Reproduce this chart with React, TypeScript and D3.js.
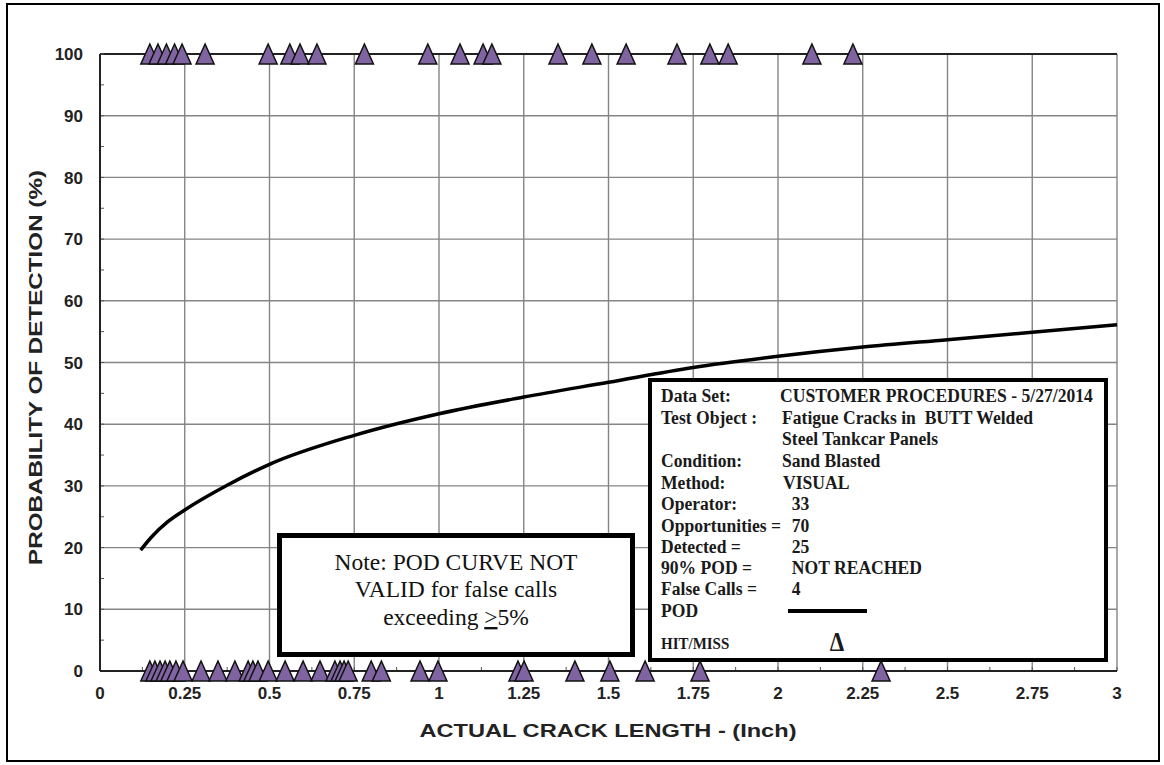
import React from "react";
import * as d3 from "d3";

// ---------- data ----------
const xTicks = [0, 0.25, 0.5, 0.75, 1, 1.25, 1.5, 1.75, 2, 2.25, 2.5, 2.75, 3];
const xTickLabels = ["0", "0.25", "0.5", "0.75", "1", "1.25", "1.5", "1.75", "2", "2.25", "2.5", "2.75", "3"];
const yTicks = [0, 10, 20, 30, 40, 50, 60, 70, 80, 90, 100];

// hits (POD = 100%)
const hitLengths = [
  0.147, 0.171, 0.196, 0.22, 0.242, 0.31, 0.496, 0.56, 0.59, 0.64, 0.78, 0.967,
  1.062, 1.13, 1.156, 1.351, 1.451, 1.552, 1.702, 1.799, 1.853, 2.1, 2.221,
];
// misses (POD = 0%)
const missLengths = [
  0.147, 0.162, 0.177, 0.192, 0.206, 0.224, 0.245, 0.298, 0.348, 0.398, 0.437,
  0.451, 0.466, 0.496, 0.546, 0.599, 0.649, 0.693, 0.708, 0.72, 0.732, 0.8, 0.83,
  0.944, 0.997, 1.233, 1.251, 1.401, 1.504, 1.608, 1.77, 2.304,
];

// POD curve
const podX = [0.12, 0.15, 0.2, 0.25, 0.375, 0.5, 0.75, 1.0, 1.25, 1.5, 1.75, 2.0, 2.25, 2.5, 2.75, 3.0];
const podY = [19.6, 21.6, 24.2, 26.1, 30.1, 33.5, 38.2, 41.7, 44.4, 46.8, 49.2, 51.0, 52.5, 53.7, 54.9, 56.1];

const legendLabels = [
  "Data Set:", "Test Object :", "", "Condition:", "Method:", "Operator:",
  "Opportunities =", "Detected =", "90% POD =", "False Calls =", "POD",
];
const legendValues = [
  "CUSTOMER PROCEDURES - 5/27/2014", "Fatigue Cracks in  BUTT Welded", "Steel Tankcar Panels",
  "Sand Blasted", "VISUAL", "  33", "  70", "  25", "  NOT REACHED", "  4", "",
];

// ---------- layout ----------
const W = 1164;
const H = 765;
const left = 100;
const top = 54;
const right = 1117;
const bottom = 671;

const sans = "'Liberation Sans', Arial, sans-serif";
const serif = "'Liberation Serif', 'Times New Roman', serif";
const purple = "#8064A2";

export default function App() {
  const x = d3.scaleLinear().domain([0, 3]).range([left, right]);
  const y = d3.scaleLinear().domain([0, 100]).range([bottom, top]);

  const line = d3
    .line<number>()
    .x((_, i) => x(podX[i]))
    .y((d) => y(d))
    .curve(d3.curveMonotoneX);

  const tri = (cx: number, cy: number) =>
    `M${cx},${cy - 10}L${cx + 9},${cy + 10}L${cx - 9},${cy + 10}Z`;

  const minorX = d3.range(0, 3.001, 0.125);
  const minorY = d3.range(0, 100.01, 5);

  const rowY = [395, 417, 438, 460, 482, 503, 525, 546, 567, 588, 610];
  const valX = [780, 782, 782, 782, 783, 783, 783, 783, 783, 783, 783];

  return (
    <svg
      width={W}
      height={H}
      style={{ position: "absolute", left: 0, top: 0, background: "#fff" }}
    >
      <rect x={0} y={0} width={W} height={H} fill="#fff" />
      {/* outer frame */}
      <rect x={7} y={4} width={1152} height={757} fill="none" stroke="#000" strokeWidth={2} />

      {/* grid */}
      {xTicks.slice(1).map((t) => (
        <line key={"gx" + t} x1={x(t)} x2={x(t)} y1={top} y2={bottom} stroke="#858585" strokeWidth={1.4} />
      ))}
      {yTicks.slice(1).map((t) => (
        <line key={"gy" + t} x1={left} x2={right} y1={y(t)} y2={y(t)} stroke={t === 100 ? "#222" : "#858585"} strokeWidth={t === 100 ? 2 : 1.4} />
      ))}
      {/* minor ticks */}
      {minorX.map((t) => (
        <line key={"mx" + t} x1={x(t)} x2={x(t)} y1={bottom} y2={bottom - 4} stroke="#555" strokeWidth={1} />
      ))}
      {minorY.map((t) => (
        <line key={"my" + t} x1={left} x2={left + 4} y1={y(t)} y2={y(t)} stroke="#555" strokeWidth={1} />
      ))}
      {/* axes */}
      <line x1={left} x2={left} y1={top} y2={bottom} stroke="#222" strokeWidth={2} />
      <line x1={left} x2={right} y1={bottom} y2={bottom} stroke="#222" strokeWidth={2} />

      {/* tick labels */}
      {yTicks.map((t) => (
        <text key={"yl" + t} x={83} y={y(t)} dy="0.36em" textAnchor="end" fontFamily={sans} fontWeight="bold" fontSize={17} fill="#222">
          {t}
        </text>
      ))}
      {xTicks.map((t, i) => (
        <text key={"xl" + t} x={x(t)} y={699} textAnchor="middle" fontFamily={sans} fontWeight="bold" fontSize={17} fill="#222">
          {xTickLabels[i]}
        </text>
      ))}

      {/* axis titles */}
      <text x={608} y={737} textAnchor="middle" fontFamily={sans} fontWeight="bold" fontSize={18} fill="#222" textLength={377} lengthAdjust="spacingAndGlyphs">
        ACTUAL CRACK LENGTH - (Inch)
      </text>
      <text
        transform={`translate(42,${(top + bottom) / 2 + 5}) rotate(-90)`}
        textAnchor="middle"
        fontFamily={sans}
        fontWeight="bold"
        fontSize={18}
        fill="#222"
        textLength={395}
        lengthAdjust="spacingAndGlyphs"
      >
        PROBABILITY OF DETECTION (%)
      </text>

      {/* POD curve */}
      <path d={line(podY) || ""} fill="none" stroke="#000" strokeWidth={3.5} />

      {/* note box */}
      <rect x={279.5} y={535.5} width={353} height={119} fill="#fff" stroke="#000" strokeWidth={5} />
      <g fontFamily={serif} fontSize={23.5} textAnchor="middle" fill="#111">
        <text x={456} y={570}>Note: POD CURVE NOT</text>
        <text x={456} y={597}>VALID for false calls</text>
        <text x={456} y={625}>
          exceeding <tspan style={{ textDecoration: "underline" }}>&gt;</tspan>5%
        </text>
      </g>

      {/* legend box */}
      <rect x={650} y={380} width={456} height={280} fill="#fff" stroke="#000" strokeWidth={4} />
      <g fontFamily={serif} fontWeight="bold" fontSize={17.6} fill="#1a1a1a">
        {legendLabels.map((l, i) => (
          <text key={"ll" + i} transform={`translate(661,${rowY[i]}) scale(1,1.12)`} dy="0.36em">
            {l}
          </text>
        ))}
        {legendValues.map((v, i) => (
          <text key={"lv" + i} transform={`translate(${valX[i]},${rowY[i]}) scale(1,1.12)`} dy="0.36em" style={{ whiteSpace: "pre" }}>
            {v}
          </text>
        ))}
        <text transform="translate(661,643) scale(1,1.12)" dy="0.36em" fontSize={15}>
          HIT/MISS
        </text>
        <text transform="translate(837,641) scale(1,1.15)" dy="0.36em" fontSize={23} textAnchor="middle">
          Δ
        </text>
      </g>
      <line x1={788} x2={867} y1={611} y2={611} stroke="#000" strokeWidth={4} />

      {/* hit/miss triangles */}
      {missLengths.map((v, i) => (
        <path key={"m" + i} d={tri(x(v), y(0))} fill={purple} stroke="#111" strokeWidth={1.5} />
      ))}
      {hitLengths.map((v, i) => (
        <path key={"h" + i} d={tri(x(v), y(100))} fill={purple} stroke="#111" strokeWidth={1.5} />
      ))}
    </svg>
  );
}
